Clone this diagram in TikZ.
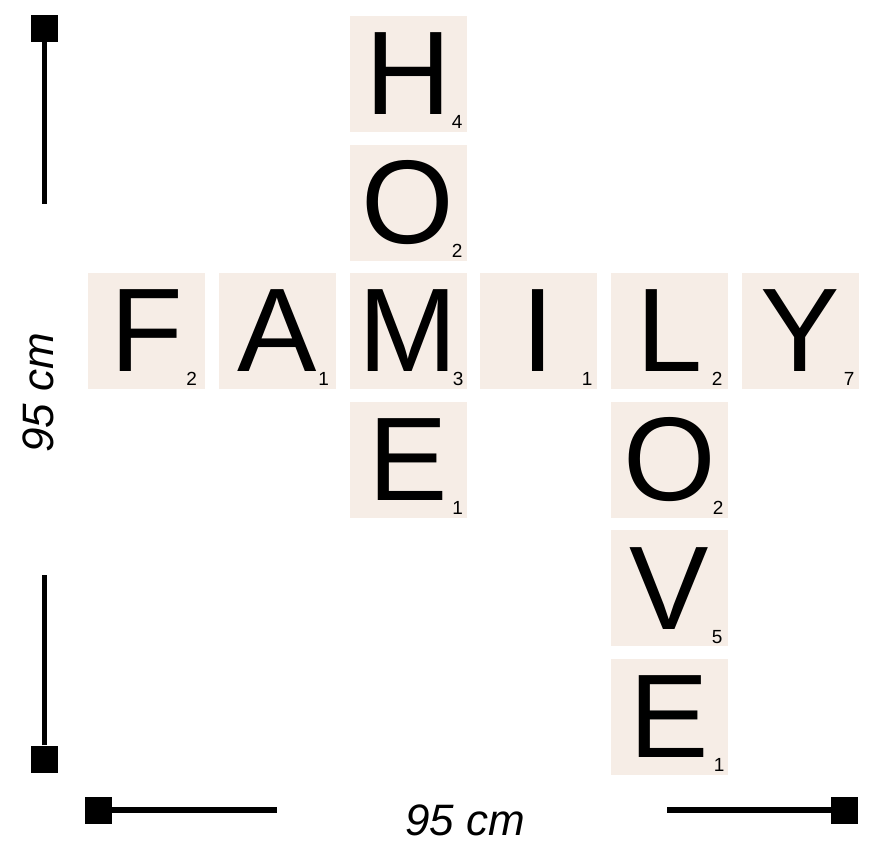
\documentclass[tikz,border=0pt]{standalone}
\usepackage{fontspec}
\setmainfont{Liberation Sans}
\usetikzlibrary{calc,positioning}
\definecolor{tilecol}{RGB}{246,237,230}

\tikzset{
  tile/.style={fill=tilecol,draw=none,minimum width=117pt,minimum height=116pt,inner sep=0pt,font=\fontsize{119}{119}\selectfont},
  score/.style={inner sep=0pt,font=\fontsize{19}{19}\selectfont},
  bar/.style={line width=5.5pt},
  endsq/.style={fill=black,draw=none,minimum size=27pt,inner sep=0pt},
  dim/.style={inner sep=0pt,font=\fontsize{44}{44}\selectfont\itshape}
}

\begin{document}
\begin{tikzpicture}[x=1pt,y=-1pt]
       \useasboundingbox (0,0) rectangle (870,850);

       % HOME
       \node[tile] (h1) at (408,74) {H};
       \node[tile] (h2) at (408,202.6) {O};
       \node[tile] (f3) at (408,331) {M};
       \node[tile] (h4) at (408,459.8) {E};

       % FAMILY
       \node[tile] (f1) at (146.5,331) {F};
       \node[tile] (f2) at (277,331) {A};
       \node[tile] (f4) at (538.5,331) {I};
       \node[tile] (f5) at (669.5,331) {L};
       \node[tile] (f6) at (800,331) {Y};

       % LOVE
       \node[tile] (l2) at (669.5,459.8) {O};
       \node[tile] (l3) at (669.5,588.4) {V};
       \node[tile] (l4) at (669.5,717) {E};

       % scores
       \node[score] (s1) at ($(h1.south east)+(-9.5,-10)$) {4};
       \node[score] (s2) at ($(h2.south east)+(-9.5,-10)$) {2};
       \node[score] (s3) at ($(f3.south east)+(-8.5,-10)$) {3};
       \node[score] (s4) at ($(h4.south east)+(-9,-10)$) {1};
       \node[score] (s5) at ($(f1.south east)+(-13.5,-10)$) {2};
       \node[score] (s6) at ($(f2.south east)+(-12,-10)$) {1};
       \node[score] (s7) at ($(f4.south east)+(-10,-10)$) {1};
       \node[score] (s8) at ($(f5.south east)+(-11,-10)$) {2};
       \node[score] (s9) at ($(f6.south east)+(-9.5,-10)$) {7};
       \node[score] (s10) at ($(l2.south east)+(-10,-10)$) {2};
       \node[score] (s11) at ($(l3.south east)+(-11,-10)$) {5};
       \node[score] (s12) at ($(l4.south east)+(-9,-10)$) {1};

       % height bar
       \node[endsq] (vt) at (44.5,28.5) {};
       \coordinate (vte) at (44.5,204);
       \draw[bar] (vt) -- (vte);
       \node[endsq] (vb) at (44.5,759) {};
       \coordinate (vbe) at (44.5,575);
       \draw[bar] (vb) -- (vbe);
       \node[dim,rotate=90] (hlab) at (38,393) {95 cm};

       % width bar
       \node[endsq] (hl) at (98,810) {};
       \coordinate (hle) at (277,810);
       \draw[bar] (hl) -- (hle);
       \node[endsq] (hr) at (844.5,810) {};
       \coordinate (hre) at (667,810);
       \draw[bar] (hr) -- (hre);
       \node[dim] (wlab) at (465,820) {95 cm};
     \end{tikzpicture}
\end{document}
